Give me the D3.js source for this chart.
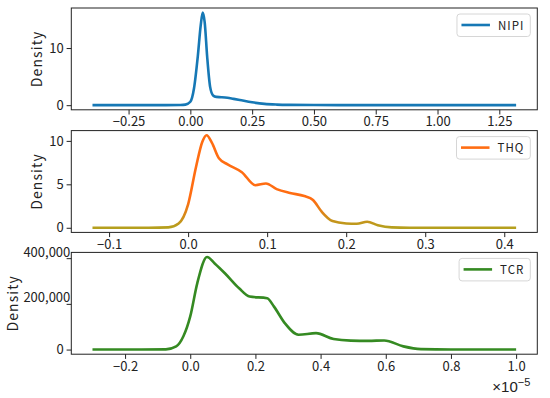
<!DOCTYPE html>
<meta charset="utf-8">
<style>
body { margin: 0; background: #fff; }
svg { display: block; }
.frame { fill: none; stroke: #222; stroke-width: 1px; }
.tick text { font: 13px "Noto Sans CJK SC", sans-serif; fill: #222; }
.tick line { stroke: #222; }
.domain { display: none; }
.ylab { font: 14px "Noto Sans CJK SC", sans-serif; letter-spacing: 1.1px; fill: #222; }
.big { font: 14px "Liberation Sans", Arial, sans-serif; fill: #222; }
.legend rect { fill: #fff; stroke: #d6d6d6; stroke-width: 1px; }
.legend text { font: 11.5px "Noto Sans CJK SC", sans-serif; letter-spacing: 1px; fill: #222; }
.kde { fill: none; stroke-width: 2.6px; stroke-linejoin: round; }
</style>
<body>
<svg width="550" height="398"></svg>
<script src="https://cdn.jsdelivr.net/npm/d3@7"></script>
<script>

// NIPI density curve
var nipiX = [-0.396, -0.2, -0.1, -0.04, -0.02, 0.0, 0.015, 0.03, 0.042, 0.05, 0.058, 0.068, 0.08, 0.092, 0.105, 0.125, 0.15, 0.175, 0.2, 0.25, 0.3, 0.35, 0.4, 0.5, 0.7, 1.0, 1.318];
var nipiY = [0, 0, 0, 0.02, 0.1, 0.6, 3.0, 8.5, 14.0, 16.2, 14.5, 8.5, 3.2, 1.7, 1.45, 1.4, 1.3, 1.1, 0.9, 0.5, 0.22, 0.1, 0.05, 0.02, 0.01, 0.005, 0];

// THQ density curve
var thqX = [-0.121, -0.05, -0.025, -0.012, 0.0, 0.01, 0.018, 0.0234, 0.03, 0.039, 0.05, 0.068, 0.085, 0.0985, 0.112, 0.129, 0.147, 0.158, 0.169, 0.1826, 0.2, 0.2134, 0.2266, 0.24, 0.2577, 0.28, 0.33, 0.415];
var thqY = [0, 0, 0.05, 0.5, 2.7, 7.0, 9.9, 10.65, 9.8, 8.0, 7.3, 6.4, 4.9, 5.1, 4.45, 4.0, 3.65, 3.2, 1.85, 0.77, 0.5, 0.47, 0.7, 0.3, 0.05, 0.01, 0, 0];

// TCR density curve (x in units of 1e-5)
var tcrX = [-0.30, -0.15, -0.075, -0.043, -0.021, 0.0, 0.0215, 0.0515, 0.075, 0.107, 0.150, 0.182, 0.236, 0.257, 0.29, 0.3325, 0.386, 0.44, 0.493, 0.547, 0.595, 0.654, 0.708, 0.8, 1.0];
var tcrY = [0, 0, 1000, 14000, 58000, 145000, 290000, 405000, 377000, 333000, 268000, 232000, 225000, 188000, 116000, 65000, 72000, 46000, 39000, 38000, 40000, 14000, 2000, 0, 0];

var nipiXTicks = [-0.25, 0, 0.25, 0.5, 0.75, 1.0, 1.25];
var thqXTicks = [-0.1, 0, 0.1, 0.2, 0.3, 0.4];
var tcrXTicks = [-0.2, 0, 0.2, 0.4, 0.6, 0.8, 1.0];
var nipiYTicks = [0, 10];
var thqYTicks = [0, 5, 10];
var tcrYTicks = [0, 200000, 400000];

var svg = d3.select("svg");
var left = 71.3, width = 466, height = 101.8;

var defs = svg.append("defs");

function pad(ext) {
  var m = (ext[1] - ext[0]) * 0.05;
  return [ext[0] - m, ext[1] + m];
}

function minusFmt(f) {
  var fmt = d3.format(f);
  return function(d) { return fmt(d).replace("-", "\u2212"); };
}

function panel(opts) {
  var top = opts.top;
  var g = svg.append("g").attr("transform", "translate(" + left + "," + top + ")");

  var x = d3.scaleLinear().domain(pad(d3.extent(opts.xs))).range([0, width]);
  var y = d3.scaleLinear().domain(pad([0, d3.max(opts.ys)])).range([height, 0]);

  var pts = opts.xs.map(function(v, i) { return [v, opts.ys[i]]; });

  var stroke = opts.color;
  if (opts.gradient) {
    var grad = defs.append("linearGradient")
      .attr("id", opts.gradient.id)
      .attr("gradientUnits", "userSpaceOnUse")
      .attr("x1", 0).attr("x2", 0)
      .attr("y1", y(0)).attr("y2", y(opts.gradient.top));
    grad.append("stop").attr("offset", "0%").attr("stop-color", opts.gradient.low);
    grad.append("stop").attr("offset", "100%").attr("stop-color", opts.color);
    stroke = "url(#" + opts.gradient.id + ")";
  }

  g.append("path")
    .datum(pts)
    .attr("class", "kde")
    .attr("stroke", stroke)
    .attr("d", d3.line()
      .x(function(d) { return x(d[0]); })
      .y(function(d) { return y(d[1]); })
      .curve(d3.curveMonotoneX));

  g.append("g")
    .attr("transform", "translate(0," + height + ")")
    .call(d3.axisBottom(x).tickValues(opts.xTicks).tickSize(4.7).tickPadding(2.5).tickFormat(minusFmt(opts.xFmt)));

  var yAxis = g.append("g")
    .call(d3.axisLeft(y).tickValues(opts.yTicks).tickSize(4.7).tickPadding(3).tickFormat(minusFmt(opts.yFmt)));

  if (opts.bigY) {
    // big comma labels drawn in another font, sitting slightly above their ticks
    yAxis.selectAll(".tick text")
      .filter(function(d) { return d !== 0; })
      .attr("class", "big")
      .attr("x", -1)
      .attr("dy", "-0.15em");
  }

  g.append("rect")
    .attr("class", "frame")
    .attr("width", width)
    .attr("height", height);

  g.append("text")
    .attr("class", "ylab")
    .attr("transform", "translate(" + opts.labX + "," + (height / 2) + ") rotate(-90)")
    .attr("text-anchor", "middle")
    .attr("dy", "0.35em")
    .text("Density");

  // legend
  var lg = g.append("g").attr("class", "legend");
  var lt = lg.append("text")
    .attr("y", 17.5)
    .attr("dy", "0.35em")
    .text(opts.name);
  var tw = lt.node().getComputedTextLength();
  var bw = 4.5 + 28.5 + 8 + tw + 6;
  var bx = width - 7 - bw;
  lg.insert("rect", "text")
    .attr("x", bx).attr("y", 6)
    .attr("width", bw).attr("height", 22.5)
    .attr("rx", 3);
  lg.append("line")
    .attr("x1", bx + 4.5).attr("x2", bx + 33)
    .attr("y1", 17).attr("y2", 17)
    .attr("stroke", opts.color)
    .attr("stroke-width", 2.6);
  lt.attr("x", bx + 41);

  return g;
}

panel({ top: 8, xs: nipiX, ys: nipiY, name: "NIPI", color: "#1678b5",
  xTicks: nipiXTicks, yTicks: nipiYTicks, xFmt: ".2f", yFmt: "d", labX: -34.6 });

panel({ top: 130.6, xs: thqX, ys: thqY, name: "THQ", color: "#ff6d12",
  gradient: { id: "thqGrad", low: "#b4a01e", top: 3.2 },
  xTicks: thqXTicks, yTicks: thqYTicks, xFmt: ".1f", yFmt: "d", labX: -34.6 });

var g3 = panel({ top: 252.4, xs: tcrX, ys: tcrY, name: "TCR", color: "#358a22",
  xTicks: tcrXTicks, yTicks: tcrYTicks, xFmt: ".1f", yFmt: ",", labX: -58.6, bigY: true });

// offset text for the TCR axis
var off = g3.append("text")
  .attr("class", "big")
  .attr("x", width - 7)
  .attr("y", height + 38)
  .attr("text-anchor", "end")
  .style("font-size", "15px");
off.append("tspan").text("\u00d710");
off.append("tspan").attr("dy", -6).style("font-size", "11px").text("\u22125");

</script>
